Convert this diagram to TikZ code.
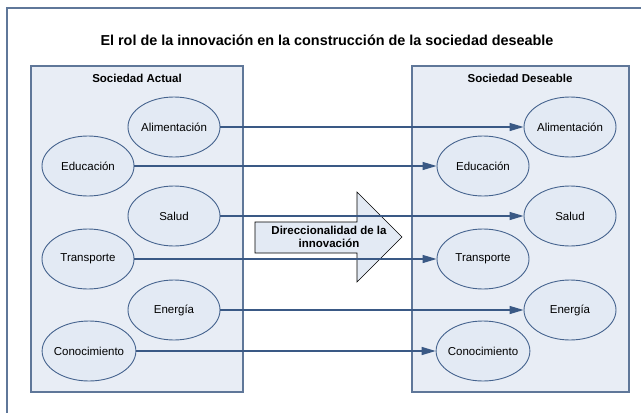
\documentclass[tikz,border=0pt]{standalone}
\usepackage{fontspec}
\setmainfont{Liberation Sans}
\usetikzlibrary{shapes.geometric,arrows.meta}
\definecolor{marco}{HTML}{5F7799}
\definecolor{fondo}{HTML}{E8EDF5}
\definecolor{borde}{HTML}{45638E}
\definecolor{relleno}{HTML}{E3EAF4}
\definecolor{linea}{HTML}{3A5985}
\tikzset{
  elipse/.style={ellipse,draw=borde,fill=relleno,line width=0.9pt,minimum width=92pt,minimum height=60pt,inner sep=0pt,inner xsep=-2pt},
  panel/.style={draw=marco,fill=fondo,line width=1.3pt},
  flecha/.style={draw=linea,line width=1.3pt}
}
\begin{document}
\begin{tikzpicture}[x=1pt,y=-1pt,font=\fontsize{11.5}{13}\selectfont]
\useasboundingbox (0,0) rectangle (641,413);
\clip (0,0) rectangle (641,413);
\draw[marco,line width=1.5pt] (7,8) rectangle (660,430);
\node(t) at (327,40){\bfseries\fontsize{14.4}{16}\selectfont El rol de la innovación en la construcción de la sociedad deseable};

\draw[panel] (31,66) rectangle (243,392);
\draw[panel] (412,66) rectangle (629,392);
\node(p1) at (137,78){\bfseries Sociedad Actual};
\node(p2) at (520,78){\bfseries Sociedad Deseable};

\node[elipse](a1) at (174,127){Alimentación};
\node[elipse](a2) at (88,166){Educación};
\node[elipse](a3) at (174,216){Salud};
\node[elipse](a4) at (88,259){Transporte};
\node[elipse](a5) at (174,310){Energía};
\node[elipse](a6) at (89,351){Conocimiento};
\node[elipse](d1) at (570,127){Alimentación};
\node[elipse](d2) at (483,166){Educación};
\node[elipse](d3) at (570,216){Salud};
\node[elipse](d4) at (483,259){Transporte};
\node[elipse](d5) at (570,310){Energía};
\node[elipse](d6) at (483,351){Conocimiento};

\draw[fill=relleno,line width=0.6pt] (255,222) -- (357,222) -- (357,192) -- (402,237) -- (357,282) -- (357,253) -- (255,253) -- cycle;
\node[align=center](dir) at (329,237){\bfseries Direccionalidad de la\\\bfseries innovación};

\draw [->,>={Triangle[length=14pt,width=8pt]},flecha](a1)--(d1);
\draw [->,>={Triangle[length=14pt,width=8pt]},flecha](a2)--(d2);
\draw [->,>={Triangle[length=14pt,width=8pt]},flecha](a3)--(d3);
\draw [->,>={Triangle[length=14pt,width=8pt]},flecha](a4)--(d4);
\draw [->,>={Triangle[length=14pt,width=8pt]},flecha](a5)--(d5);
\draw [->,>={Triangle[length=14pt,width=8pt]},flecha](a6)--(d6);
\end{tikzpicture}
\end{document}
